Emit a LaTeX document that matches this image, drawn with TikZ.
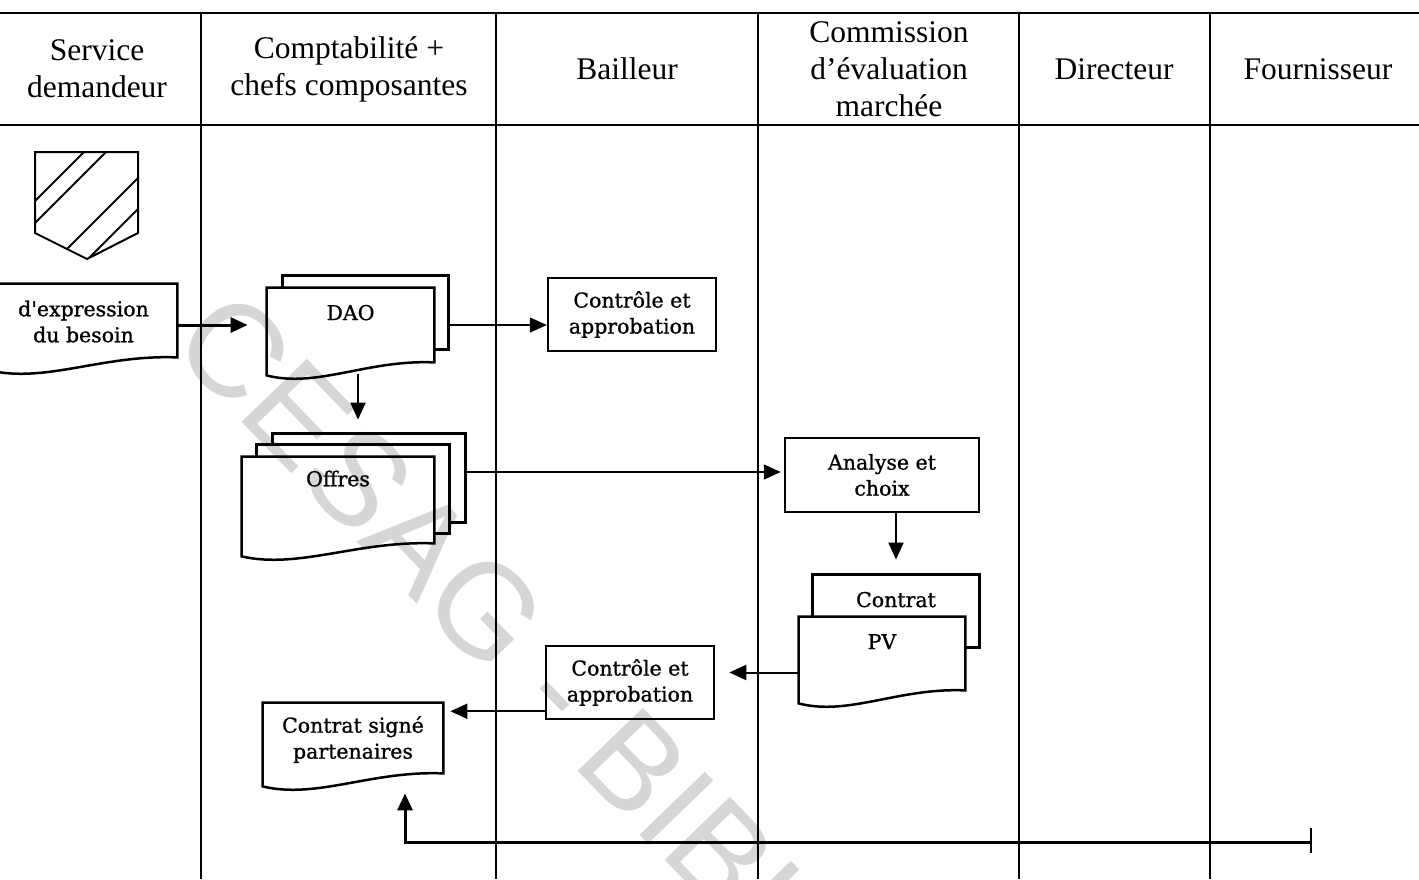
\documentclass[tikz,border=0pt]{standalone}
\usepackage{fontspec}
\setmainfont{Liberation Serif}
\newfontfamily\boxfont[FakeBold=1]{DejaVu Serif}
\newfontfamily\wmfont{Liberation Sans}
\usetikzlibrary{arrows.meta,calc,fit}
\definecolor{wmgray}{RGB}{214,214,214}

\tikzset{
  lane/.style={line width=1pt},
  boxline/.style={line width=1.25pt, line join=miter},
  hdr/.style={font=\fontsize{15.75}{18.5}\selectfont, align=center, inner sep=0pt},
  btext/.style={font=\boxfont\fontsize{10.25}{13}\selectfont, align=center, inner sep=0pt},
  procbox/.style={btext, draw, line width=1.25pt},
  sheet/.style={inner sep=0pt},
  flow/.style={line width=1pt, -{Triangle[length=8.5pt,width=7.5pt]}},
  flowthin/.style={flow, line width=0.75pt},
  flowthick/.style={flow, line width=1.5pt},
}

% document symbol with a wavy lower edge
\newcommand\docoutline[1]{%
  \draw[boxline] (#1.north west) -- (#1.north east) -- (#1.south east)
    .. controls ($(#1.south west)!0.6!(#1.south east)+(0,-3)$)
       and ($(#1.south west)!0.3!(#1.south east)+(0,26)$)
    .. ($(#1.south west)+(0,13)$) -- cycle;}
% visible part of a sheet lying behind another one
\newcommand\backoutline[2]{%
  \draw[boxline] (#1.west |- #2.north) -- (#1.north west) -- (#1.north east)
    -- (#1.south east) -- (#1.south east -| #2.east);}

\begin{document}
\begin{tikzpicture}[x=0.5pt,y=-0.5pt]
\useasboundingbox (0,0) rectangle (1419,879);

% watermark
\begin{scope}
  \clip (0,0) rectangle (1419,879);
  \node[font=\wmfont\fontsize{66}{66}\selectfont, text=wmgray, rotate=-46,
        anchor=base west, inner sep=0pt] (wm) at (168,346) {CESAG - BIBLIOTHEQUE};
\end{scope}

% swimlanes
\draw[lane] (0,13) -- (1419,13);
\draw[lane] (0,125) -- (1419,125);
\foreach \x in {201,496,758,1019,1210} \draw[lane] (\x,13) -- (\x,879);

\node[hdr] (h1) at (97,69)   {Service\\demandeur};
\node[hdr] (h2) at (349,69)  {Comptabilité +\\chefs composantes};
\node[hdr] (h3) at (627,69)  {Bailleur};
\node[hdr] (h4) at (889,69)  {Commission\\d’évaluation\\marchée};
\node[hdr] (h5) at (1114,69) {Directeur};
\node[hdr] (h6) at (1318,69) {Fournisseur};

% hatched start symbol
\draw[line width=1pt] (35,152) -- (138,152) -- (138,233) -- (87,259) -- (35,233) -- cycle;
\begin{scope}
  \clip (35,152) -- (138,152) -- (138,233) -- (87,259) -- (35,233) -- cycle;
  \foreach \c in {236,258,316,347}
    \draw[line width=1pt] (\c-140,140) -- (\c-270,270);
\end{scope}

% documents
\node[sheet, fit={(-10,284)(177,357)}] (expr) {};
\docoutline{expr}
\node[btext] (expr-t) at ($(expr.north)+(0,38)$) {d'expression\\du besoin};

\node[sheet, fit={(283,276)(448,349)}] (daob) {};
\node[sheet, fit={(267,288)(434,362)}] (dao) {};
\backoutline{daob}{dao}
\docoutline{dao}
\node[btext] (dao-t) at ($(dao.north)+(0,25)$) {DAO};

\node[sheet, fit={(273,434)(465,522)}] (offb) {};
\node[sheet, fit={(257,445)(449,533)}] (offm) {};
\node[sheet, fit={(242,457)(434,543)}] (off) {};
\backoutline{offb}{offm}
\backoutline{offm}{off}
\docoutline{off}
\node[btext] (off-t) at ($(off.north)+(0,22)$) {Offres};

\node[sheet, fit={(813,575)(979,647)}] (ctb) {};
\node[sheet, fit={(799,617)(965,690)}] (pv) {};
\backoutline{ctb}{pv}
\docoutline{pv}
\node[btext] (ctb-t) at ($(ctb.north)+(0,25)$) {Contrat};
\node[btext] (pv-t) at ($(pv.north)+(0,25)$) {PV};

\node[sheet, fit={(263,703)(443,773)}] (csig) {};
\docoutline{csig}
\node[btext] (csig-t) at ($(csig.north)+(0,37)$) {Contrat signé\\partenaires};

% process boxes
\node[procbox, minimum width=84pt, minimum height=36.5pt] (ctrl1) at (632,314.5) {Contrôle et\\approbation};
\node[procbox, minimum width=97pt, minimum height=37pt] (analyse) at (882,475) {Analyse et\\choix};
\node[procbox, minimum width=84pt, minimum height=36.5pt] (ctrl2) at (630,682.5) {Contrôle et\\approbation};

% flows
\draw[flowthick, shorten >=9.5pt] (expr.east |- dao.west) -- (dao.west);
\draw[flowthin] (daob.east |- dao.west) -- (ctrl1.west |- dao.west);
\coordinate (daoout) at (358,374);
\draw[flow, shorten >=7pt] (daoout) -- (offb.north -| daoout);
\draw[flowthin, shorten >=1.5pt] ($(offb.east)+(0,-6)$) -- ($(analyse.west |- offb.east)+(0,-6)$);
\draw[flow, shorten >=7.5pt] (analyse.south -| ctb.north) -- (ctb.north);
\draw[flow, shorten >=7pt] ($(pv.west)+(0,19)$) -- ($(ctrl2.east |- pv.west)+(0,19)$);
\draw[flow, shorten >=3.5pt] ($(ctrl2.south west)+(0,-9)$) -- ($(csig.east |- ctrl2.south west)+(0,-9)$);

\coordinate (fourn) at (1311,842);
\draw[line width=1pt] (1311,828) -- (1311,853);
\draw[flowthick, shorten >=10pt] (fourn) -| (csig.south -| 405,0);
\end{tikzpicture}
\end{document}
